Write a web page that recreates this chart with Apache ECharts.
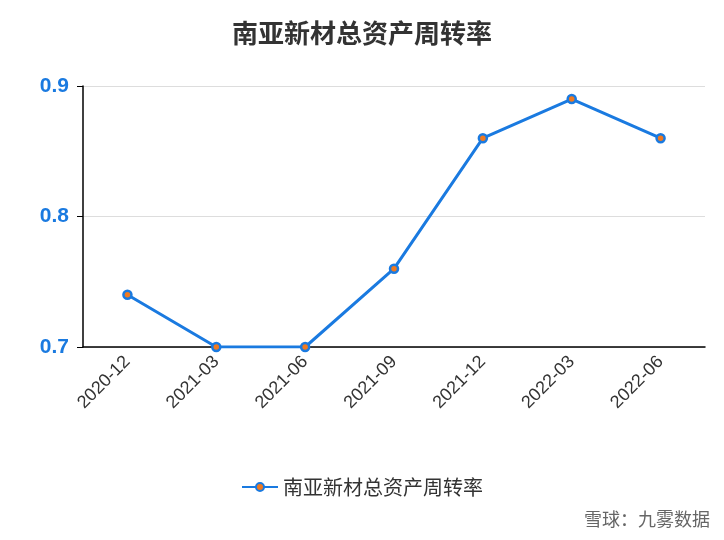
<!DOCTYPE html><html><head><meta charset="utf-8"><script src="https://cdn.jsdelivr.net/npm/echarts@6/dist/echarts.min.js"></script></head><body style="margin:0"><div id="c" style="width:724px;height:540px"></div><script>
const categories=['2020-12','2021-03','2021-06','2021-09','2021-12','2022-03','2022-06'];
const values=[0.74,0.70,0.70,0.76,0.86,0.89,0.86];
const yTicks=[0.7,0.8,0.9];
const name='南亚新材总资产周转率';
const ch=echarts.init(document.getElementById('c'));
ch.setOption({
title:{text:name,left:'center',top:15,textStyle:{fontSize:26,fontWeight:'bold',color:'#333',fontFamily:'Noto Sans CJK SC'}},
grid:{left:83,right:19,top:86,bottom:193},
legend:{bottom:38,itemWidth:36,itemHeight:10,textStyle:{fontSize:20,color:'#333',fontFamily:'Noto Sans CJK SC'},data:[name]},
xAxis:{type:'category',data:categories,axisLine:{lineStyle:{color:'#000',width:1.5}},axisTick:{alignWithLabel:true,length:6,lineStyle:{color:'#000'}},axisLabel:{rotate:45,fontSize:18,color:'#333',margin:12}},
yAxis:{type:'value',min:yTicks[0],max:yTicks[2],interval:0.1,axisLine:{show:true,lineStyle:{color:'#000',width:1.5}},axisTick:{show:true,length:6},splitLine:{lineStyle:{color:'#ddd'}},axisLabel:{fontSize:21,fontWeight:'bold',color:'#1a7ae0',margin:14,formatter:v=>v.toFixed(1)}},
series:[{name,type:'line',data:values,symbol:'circle',symbolSize:8,lineStyle:{width:3,color:'#1a7ae0'},itemStyle:{color:'#f07a20',borderColor:'#1a7ae0',borderWidth:2.5}}],
graphic:[{type:'text',right:14,bottom:12,style:{text:'雪球：九雾数据',fontSize:18,fill:'#666',fontFamily:'Noto Sans CJK SC'}}]
});
</script></body></html>
